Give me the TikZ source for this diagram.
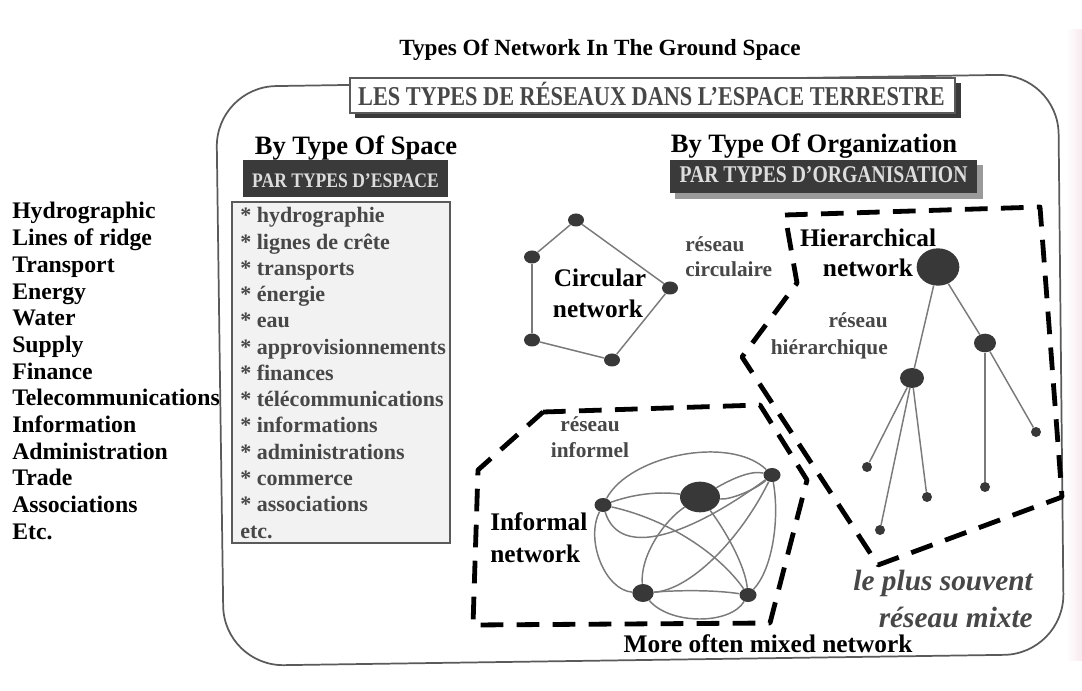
\documentclass[tikz,border=0pt]{standalone}
\usepackage{fontspec}
\setmainfont{Liberation Serif}
\usetikzlibrary{shapes.geometric}
\definecolor{inkgray}{HTML}{474747}
\definecolor{edgegray}{HTML}{7A7A7A}
\definecolor{nodegray}{HTML}{383838}
\definecolor{boxfill}{HTML}{F2F2F2}
\definecolor{darkbar}{HTML}{3A3A3A}
\definecolor{barshadow}{HTML}{9A9A9A}
\definecolor{framegray}{HTML}{5A5A5A}
\definecolor{barink}{HTML}{DDDDDD}
\definecolor{pinkedge}{HTML}{F7EAEE}
\begin{document}
\begin{tikzpicture}[x=0.75pt,y=-0.75pt,
  eng/.style={font=\fontsize{17.8pt}{20pt}\selectfont\bfseries, inner sep=0pt, anchor=base west},
  titlefont/.style={font=\fontsize{17.4pt}{20pt}\selectfont\bfseries, inner sep=0pt, anchor=base},
  head/.style={font=\fontsize{19.9pt}{22pt}\selectfont\bfseries, inner sep=0pt, anchor=base},
  netlbl/.style={font=\fontsize{19pt}{22pt}\selectfont\bfseries, inner sep=0pt},
  frlist/.style={font=\fontsize{16.5pt}{18pt}\selectfont\bfseries, text=inkgray, inner sep=0pt, anchor=base west},
  frlbl/.style={font=\fontsize{16pt}{18pt}\selectfont\bfseries, text=inkgray, inner sep=0pt},
  mixte/.style={font=\fontsize{22pt}{26pt}\selectfont\bfseries\itshape, text=inkgray, inner sep=0pt, anchor=base east},
  gnode/.style={ellipse, fill=nodegray, draw=none, inner sep=0pt},
  gedge/.style={draw=edgegray, line width=1.1pt},
  zone/.style={draw=black, line width=3.6pt, dash pattern=on 17pt off 10pt, line join=round},
]
\useasboundingbox (0,0) rectangle (1082,691);
\fill[white] (0,0) rectangle (1082,691);
\shade[left color=white, right color=pinkedge] (1066,30) rectangle (1082,660);

% title
\node[titlefont] (title) at (600,56) {Types Of Network In The Ground Space};

% main frame
\draw[framegray, line width=1.3pt, rounded corners=45pt]
  (220,380) -- (216,87) -- (1058,74) -- (1064,654) -- (224,666) -- cycle;

% header box
\fill[darkbar] (355,83) rectangle (961,118);
\node[draw=framegray, fill=white, line width=1pt, minimum width=605*0.75pt, minimum height=35*0.75pt, inner sep=0pt] (hdr) at (652.5,95.5) {};
\node[inner sep=0pt, anchor=base, text=inkgray] (hdrtext) at (651.5,106)
  {\resizebox{440pt}{\height}{\fontsize{20.4pt}{24pt}\selectfont\bfseries LES TYPES DE RÉSEAUX DANS L'ESPACE TERRESTRE}};

% section headings
\node[head] (byspace) at (356,155) {By Type Of Space};
\node[head] (byorg) at (814,153) {By Type Of Organization};

\fill[darkbar] (243,160) rectangle (448,197);
\node[inner sep=0pt, anchor=base, text=barink] (parespace) at (345.5,188)
  {\resizebox{140pt}{\height}{\fontsize{15.5pt}{17pt}\selectfont\bfseries PAR TYPES D'ESPACE}};
\fill[barshadow] (675,165) rectangle (983,199);
\fill[darkbar] (670,160) rectangle (977,193);
\node[inner sep=0pt, anchor=base, text=barink] (parorg) at (823.5,183)
  {\resizebox{216pt}{\height}{\fontsize{18pt}{20pt}\selectfont\bfseries PAR TYPES D'ORGANISATION}};

% list box
\draw[draw=framegray, fill=boxfill, line width=0.9pt] (232,202) rectangle (450,543);
\foreach \t [count=\i] in {* hydrographie,* lignes de crête,* transports,* énergie,* eau,* approvisionnements,* finances,* télécommunications,* informations,* administrations,* commerce,* associations,etc.}
  \node[frlist] (fr\i) at (240,{223+26.25*(\i-1)}) {\t};

% English list
\foreach \t [count=\i] in {Hydrographic,Lines of ridge,Transport,Energy,Water,Supply,Finance,Telecommunications,Information,Administration,Trade,Associations,Etc.}
  \node[eng] (en\i) at (12,{219+26.7*(\i-1)}) {\t};

% circular network
\node[gnode, minimum width=12pt, minimum height=9.75pt] (c1) at (576,220) {};
\node[gnode, minimum width=12pt, minimum height=9.75pt] (c2) at (532,257) {};
\node[gnode, minimum width=12pt, minimum height=9.75pt] (c3) at (670,288) {};
\node[gnode, minimum width=12pt, minimum height=9.75pt] (c4) at (532,340) {};
\node[gnode, minimum width=12pt, minimum height=9.75pt] (c5) at (612,360) {};
\draw[gedge] (c1) -- (c2);
\draw[gedge] (c2) -- (c4);
\draw[gedge] (c4) -- (c5);
\draw[gedge] (c5) -- (c3);
\draw[gedge] (c3) -- (c1);
\node[netlbl, anchor=base] (circ1) at (600,287) {Circular};
\node[netlbl, anchor=base] (circ2) at (598,318) {network};
\node[frlbl, anchor=base west] (circfr1) at (685,252) {réseau};
\node[frlbl, anchor=base west] (circfr2) at (685,277) {circulaire};

% hierarchical network
\node[gnode, minimum width=32pt, minimum height=28pt] (r) at (938,267) {};
\node[gnode, minimum width=16.5pt, minimum height=14pt] (m2) at (985,343) {};
\node[gnode, minimum width=18pt, minimum height=15pt] (m1) at (912,378) {};
\node[gnode, minimum width=7.5pt, minimum height=7.5pt] (l1) at (867,467) {};
\node[gnode, minimum width=7.5pt, minimum height=7.5pt] (l2) at (880,530) {};
\node[gnode, minimum width=7.5pt, minimum height=7.5pt] (l3) at (927,497) {};
\node[gnode, minimum width=7.5pt, minimum height=7.5pt] (l4) at (985,487) {};
\node[gnode, minimum width=7.5pt, minimum height=7.5pt] (l5) at (1036,432) {};
\draw[gedge] (r) -- (m1);
\draw[gedge] (r) -- (m2);
\draw[gedge] (m1) -- (l1);
\draw[gedge] (m1) -- (l2);
\draw[gedge] (m1) -- (l3);
\draw[gedge] (m2) -- (l4);
\draw[gedge] (m2) -- (l5);
\node[netlbl, anchor=base] (hier1) at (868,247) {Hierarchical};
\node[netlbl, anchor=base] (hier2) at (868,277) {network};
\node[frlbl, anchor=base east] (hierfr1) at (888,328) {réseau};
\node[frlbl, anchor=base east] (hierfr2) at (888,355) {hiérarchique};

% informal network
\node[gnode, minimum width=12.75pt, minimum height=10.5pt] (L) at (603,505) {};
\node[gnode, minimum width=30pt, minimum height=23pt] (B) at (700,497) {};
\node[gnode, minimum width=12.75pt, minimum height=10.5pt] (TR) at (772,475) {};
\node[gnode, minimum width=16pt, minimum height=13.5pt] (BL) at (643,593) {};
\node[gnode, minimum width=12.75pt, minimum height=10.5pt] (BR) at (748,595) {};
\draw[gedge] (L) .. controls (630,455) and (730,435) .. (TR);
\draw[gedge] (L) .. controls (640,492) and (665,492) .. (B);
\draw[gedge] (B) .. controls (730,480) and (750,470) .. (TR);
\draw[gedge] (B) .. controls (730,500) and (755,490) .. (TR);
\draw[gedge] (TR) .. controls (780,520) and (772,570) .. (BR);
\draw[gedge] (L) .. controls (585,540) and (605,590) .. (BL);
\draw[gedge] (L) .. controls (670,520) and (720,555) .. (BR);
\draw[gedge] (L) .. controls (620,560) and (690,535) .. (TR);
\draw[gedge] (B) .. controls (665,520) and (640,555) .. (BL);
\draw[gedge] (B) .. controls (725,530) and (745,565) .. (BR);
\draw[gedge] (TR) .. controls (740,540) and (690,590) .. (BL);
\draw[gedge] (BL) .. controls (680,590) and (715,590) .. (BR);
\draw[gedge] (BL) .. controls (670,625) and (730,625) .. (BR);
\node[frlbl, anchor=base] (inffr1) at (590,432) {réseau};
\node[frlbl, anchor=base] (inffr2) at (590,458) {informel};
\node[netlbl, anchor=base west] (inf1) at (490,530) {Informal};
\node[netlbl, anchor=base west] (inf2) at (490,562) {network};

% dashed zones
\draw[zone] (543,412) -- (760,405) -- (807,480) -- (770,623) -- (473,625) -- (478,470) -- cycle;
\draw[zone] (785,215) -- (1040,207) -- (1062,497) -- (878,565) -- (742,357) -- (797,283) -- cycle;

% mixed
\node[mixte] (mix1) at (1033,590) {le plus souvent};
\node[mixte] (mix2) at (1033,627) {réseau mixte};
\node[netlbl, anchor=base] (mixen) at (768,652) {More often mixed network};
\end{tikzpicture}
\end{document}
